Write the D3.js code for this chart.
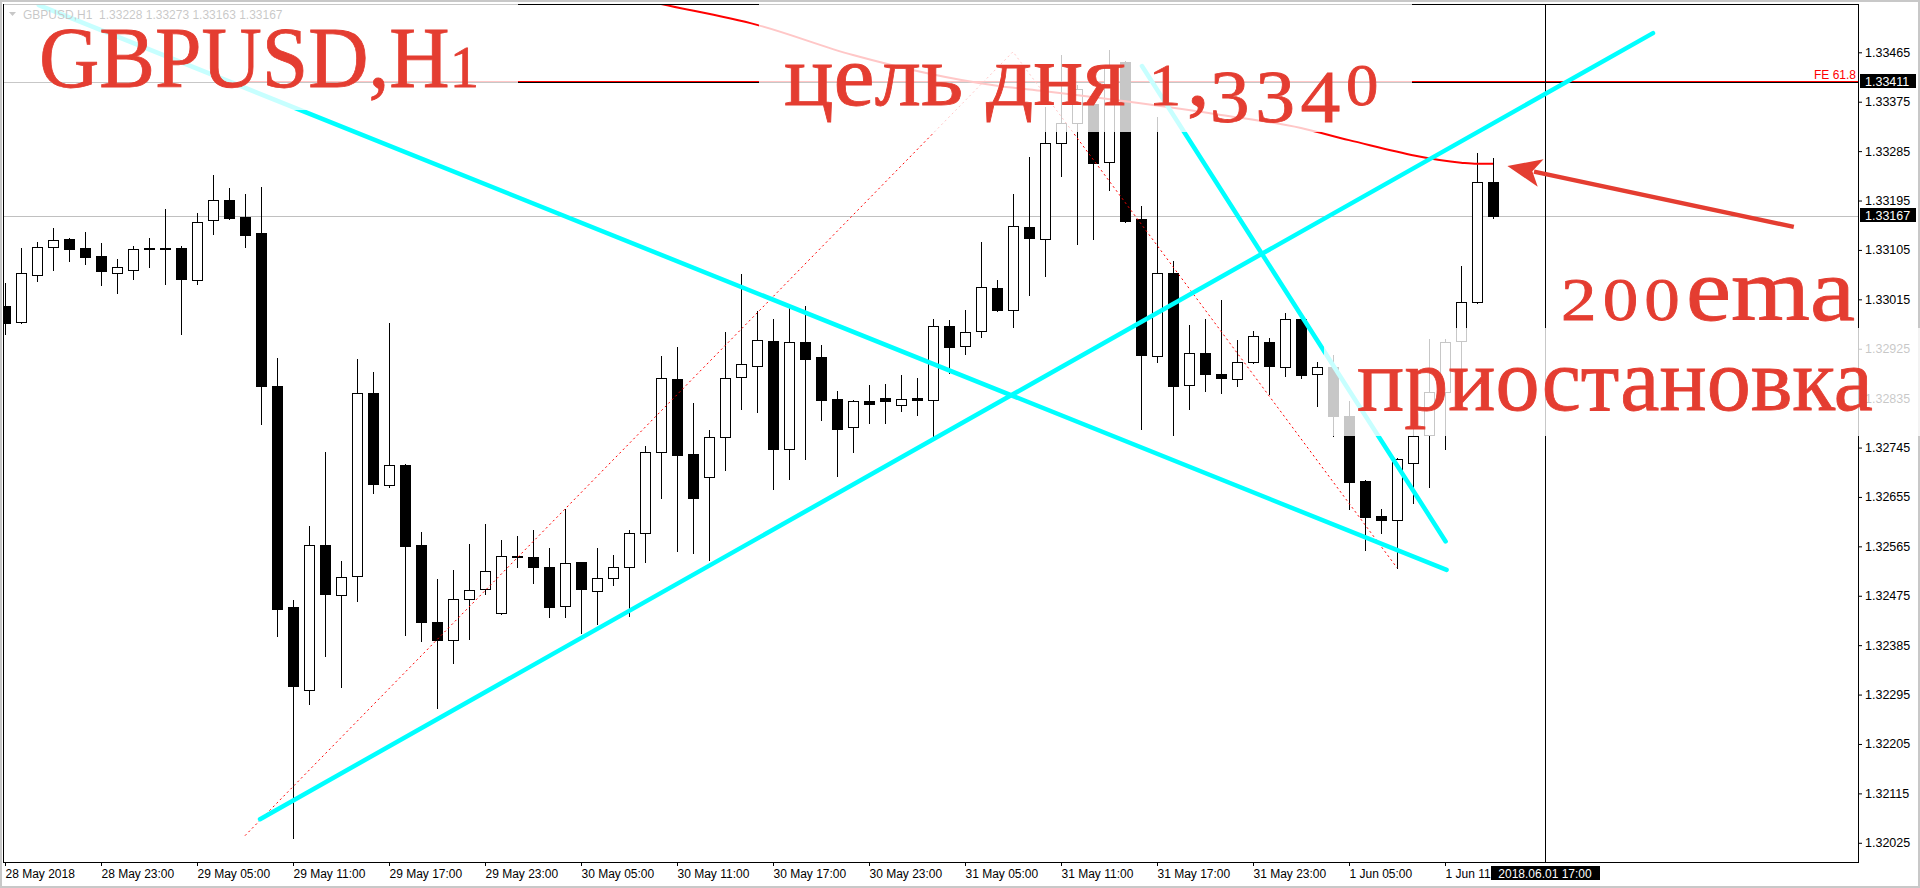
<!DOCTYPE html>
<html><head><meta charset="utf-8">
<script src="https://cdn.jsdelivr.net/npm/d3@7/dist/d3.min.js"></script>
<style>html,body{margin:0;padding:0;background:#fff;overflow:hidden}</style>
</head><body><svg id="c" width="1920" height="888"></svg>
<script>
// ---------------- DATA ----------------
const opens  = [1.33002,1.32973,1.33059,1.33111,1.33125,1.33109,1.33094,1.33063,1.33069,1.33106,
1.33108,1.33109,1.33051,1.33160,1.33196,1.33165,1.33136,1.32857,1.32455,1.32303,
1.32567,1.32477,1.32511,1.32844,1.32676,1.32713,1.32567,1.32427,1.32394,1.32469,
1.32487,1.32443,1.32547,1.32546,1.32527,1.32456,1.32536,1.32483,1.32507,1.32527,
1.32589,1.32737,1.32870,1.32733,1.32692,1.32764,1.32873,1.32894,1.32939,1.32743,
1.32937,1.32910,1.32834,1.32782,1.32829,1.32835,1.32822,1.32835,1.32831,1.32967,
1.32930,1.32957,1.33035,1.32995,1.33146,1.33124,1.33299,1.33336,1.33371,1.33265,
1.33448,1.33161,1.32912,1.33063,1.32859,1.32917,1.32879,1.32870,1.32901,1.32937,
1.32891,1.32979,1.32879,1.32891,1.32802,1.32684,1.32620,1.32613,1.32717,1.32767,
1.32846,1.32939,1.33010,1.33228];
const highs  = [1.33044,1.33109,1.33120,1.33145,1.33127,1.33138,1.33118,1.33089,1.33112,1.33127,
1.33180,1.33113,1.33172,1.33242,1.33218,1.33206,1.33220,1.32909,1.32467,1.32602,
1.32736,1.32538,1.32907,1.32883,1.32972,1.32715,1.32591,1.32506,1.32522,1.32569,
1.32605,1.32576,1.32583,1.32594,1.32562,1.32633,1.32536,1.32562,1.32550,1.32595,
1.32748,1.32912,1.32928,1.32826,1.32777,1.32956,1.33061,1.32994,1.32979,1.33001,
1.33003,1.32932,1.32848,1.32832,1.32859,1.32861,1.32877,1.32871,1.32979,1.32978,
1.32995,1.33120,1.33050,1.33206,1.33274,1.33366,1.33461,1.33405,1.33378,1.33470,
1.33449,1.33185,1.33347,1.33085,1.32968,1.32979,1.33014,1.32941,1.32957,1.32944,
1.32990,1.32980,1.32901,1.32914,1.32829,1.32685,1.32633,1.32726,1.32782,1.32942,
1.32943,1.33076,1.33281,1.33273];
const lows   = [1.32951,1.32971,1.33049,1.33069,1.33085,1.33079,1.33041,1.33027,1.33052,1.33074,
1.33043,1.32952,1.33043,1.33134,1.33162,1.33110,1.32788,1.32402,1.32033,1.32277,
1.32366,1.32308,1.32466,1.32663,1.32673,1.32403,1.32392,1.32270,1.32352,1.32396,
1.32479,1.32442,1.32528,1.32498,1.32437,1.32437,1.32408,1.32424,1.32495,1.32439,
1.32537,1.32654,1.32556,1.32552,1.32541,1.32705,1.32815,1.32809,1.32669,1.32688,
1.32724,1.32795,1.32693,1.32736,1.32790,1.32789,1.32812,1.32805,1.32761,1.32880,
1.32915,1.32947,1.32993,1.32965,1.33023,1.33058,1.33240,1.33115,1.33125,1.33214,
1.33156,1.32778,1.32900,1.32767,1.32816,1.32848,1.32844,1.32858,1.32899,1.32842,
1.32876,1.32872,1.32820,1.32766,1.32633,1.32558,1.32589,1.32526,1.32644,1.32674,
1.32743,1.32881,1.33009,1.33163];
const closes = [1.32971,1.33063,1.33111,1.33123,1.33107,1.33092,1.33066,1.33074,1.33106,1.33108,
1.33109,1.33052,1.33156,1.33196,1.33163,1.33133,1.32857,1.32450,1.32311,1.32567,
1.32479,1.32509,1.32844,1.32678,1.32713,1.32566,1.32427,1.32394,1.32469,1.32485,
1.32520,1.32547,1.32546,1.32527,1.32455,1.32535,1.32487,1.32507,1.32527,1.32589,
1.32737,1.32871,1.32732,1.32654,1.32764,1.32871,1.32897,1.32941,1.32743,1.32937,
1.32907,1.32832,1.32779,1.32830,1.32825,1.32829,1.32834,1.32831,1.32967,1.32929,
1.32956,1.33037,1.32995,1.33148,1.33126,1.33299,1.33336,1.33399,1.33263,1.33440,
1.33158,1.32913,1.33063,1.32858,1.32917,1.32879,1.32871,1.32901,1.32948,1.32894,
1.32979,1.32878,1.32891,1.32802,1.32683,1.32619,1.32613,1.32724,1.32766,1.32846,
1.32937,1.33010,1.33228,1.33167];

// 200 EMA (bar index, price)
const emaBars   = [36, 41, 47, 53, 62, 65, 76, 81, 84, 91, 92, 93];
const emaValues = [1.33585,1.33553,1.33515,1.33460,1.33404,1.33394,1.33351,1.33327,1.33305,1.33264,1.33262,1.33262];

// Fibonacci expansion anchors (bar, price)
const fiboBars   = [15, 63, 87];
const fiboPrices = [1.32038, 1.33466, 1.32526];
const feLevel = 1.33411;      // FE 61.8 / horizontal line
const lastPrice = 1.33167;
const vlineBar = 96.25;        // vertical line 2018.06.01 17:00

// cyan trend lines: [bar1, price1, bar2, price2]
const trendLines = [
  [2.11, 1.33551, 90.1, 1.32522],
  [15.94, 1.32068, 103.0, 1.33500],
  [71.06, 1.33440, 90.04, 1.32574]
];
// arrow (tail -> tip) in bar/price
const arrowFrom = [111.8, 1.33147];
const arrowTo   = [93.9, 1.33258];

const yTicks = [1.32025,1.32115,1.32205,1.32295,1.32385,1.32475,1.32565,1.32655,1.32745,1.32835,
                1.32925,1.33015,1.33105,1.33195,1.33285,1.33375,1.33465];
const xTickBars = [0,6,12,18,24,30,36,42,48,54,60,66,72,78,84,90];
const xTickLabels = ["28 May 2018","28 May 23:00","29 May 05:00","29 May 11:00","29 May 17:00","29 May 23:00",
  "30 May 05:00","30 May 11:00","30 May 17:00","30 May 23:00","31 May 05:00","31 May 11:00",
  "31 May 17:00","31 May 23:00","1 Jun 05:00","1 Jun 11:00"];

// ---------------- LAYOUT ----------------
const P = {l:3, t:4, r:1858, b:862};
const svg = d3.select('#c');
const x = d3.scaleLinear().domain([-0.125, 115.8125]).range([P.l, P.r]);
const y = d3.scaleLinear().domain([1.31990, 1.33553]).range([P.b, P.t]);
const RED = '#e43d31';
const AX_FONT = 'Liberation Sans, Arial, sans-serif';

svg.append('rect').attr('width',1920).attr('height',888).attr('fill','#fff');
svg.append('defs').append('clipPath').attr('id','clip')
  .append('rect').attr('x',P.l+1).attr('y',P.t+1).attr('width',P.r-P.l-1).attr('height',P.b-P.t-1);

const pg = svg.append('g').attr('clip-path','url(#clip)');

// last price grey line
pg.append('line').attr('x1',P.l).attr('x2',P.r)
  .attr('y1',Math.round(y(lastPrice))+0.5).attr('y2',Math.round(y(lastPrice))+0.5)
  .attr('stroke','#c0c0c0').attr('stroke-width',1);

// horizontal black line + FE 61.8 red level
const feY = Math.round(y(feLevel));
pg.append('line').attr('x1',P.l).attr('x2',P.r).attr('y1',feY+0.5).attr('y2',feY+0.5)
  .attr('stroke','#000').attr('stroke-width',1);
pg.append('line').attr('x1',x(fiboBars[0])).attr('x2',P.r).attr('y1',feY-0.5).attr('y2',feY-0.5)
  .attr('stroke','#ff0000').attr('stroke-width',1);

// vertical line
pg.append('line').attr('x1',Math.round(x(vlineBar))+0.5).attr('x2',Math.round(x(vlineBar))+0.5)
  .attr('y1',P.t).attr('y2',P.b).attr('stroke','#000').attr('stroke-width',1);

// candles
const candles = opens.map((o,i)=>({i,o,h:highs[i],l:lows[i],c:closes[i]}));
const cg = pg.append('g').attr('shape-rendering','crispEdges');
cg.selectAll('line.w').data(candles).join('line').attr('class','w')
  .attr('x1',d=>Math.round(x(d.i))+0.5).attr('x2',d=>Math.round(x(d.i))+0.5)
  .attr('y1',d=>Math.round(y(d.h))).attr('y2',d=>Math.round(y(d.l))+1)
  .attr('stroke','#000').attr('stroke-width',1);
cg.selectAll('rect.b').data(candles).join('rect').attr('class','b')
  .attr('x',d=>Math.round(x(d.i))-4.5)
  .attr('y',d=>Math.round(y(Math.max(d.o,d.c)))+0.5)
  .attr('width',10)
  .attr('height',d=>Math.max(1,Math.round(y(Math.min(d.o,d.c)))-Math.round(y(Math.max(d.o,d.c)))))
  .attr('fill',d=>d.c>=d.o?'#fff':'#000')
  .attr('stroke','#000').attr('stroke-width',1);

// EMA
pg.append('path').datum(emaBars.map((b,i)=>[b,emaValues[i]]))
  .attr('d',d3.line().x(d=>x(d[0])).y(d=>y(d[1])).curve(d3.curveMonotoneX))
  .attr('fill','none').attr('stroke','#ff0000').attr('stroke-width',2);

// Fibo dotted
pg.append('path').datum(fiboBars.map((b,i)=>[b,fiboPrices[i]]))
  .attr('d',d3.line().x(d=>x(d[0])).y(d=>y(d[1])))
  .attr('fill','none').attr('stroke','#ff0000').attr('stroke-width',1).attr('stroke-dasharray','2,3');

// cyan trend lines
pg.selectAll('line.tl').data(trendLines).join('line').attr('class','tl')
  .attr('x1',d=>x(d[0])).attr('y1',d=>y(d[1])).attr('x2',d=>x(d[2])).attr('y2',d=>y(d[3]))
  .attr('stroke','#00ffff').attr('stroke-width',4.5).attr('stroke-linecap','round');

// header
svg.append('path').attr('d','M9,12 L16,12 L12.5,16 Z').attr('fill','#000');
svg.append('text').attr('x',23).attr('y',19).attr('font-family',AX_FONT).attr('font-size',12)
  .attr('fill','#000').attr('xml:space','preserve')
  .text('GBPUSD,H1  1.33228 1.33273 1.33163 1.33167');

// ---------------- AXES ----------------
const yAx = svg.append('g').attr('transform',`translate(${P.r},0)`)
  .call(d3.axisRight(y).tickValues(yTicks).tickSize(4).tickSizeOuter(0).tickPadding(3).tickFormat(d3.format('.5f')));
yAx.select('.domain').remove();
yAx.selectAll('text').attr('font-family',AX_FONT).attr('font-size',12.5).attr('fill','#000');
yAx.selectAll('line').attr('stroke','#000');

const xAx = svg.append('g').attr('transform',`translate(0,${P.b})`)
  .call(d3.axisBottom(x).tickValues(xTickBars).tickSize(4).tickSizeOuter(0).tickPadding(3)
  .tickFormat((d,i)=>xTickLabels[i]));
xAx.select('.domain').remove();
xAx.selectAll('text').attr('font-family',AX_FONT).attr('font-size',12).attr('fill','#000')
  .attr('text-anchor','start').attr('x',0);
xAx.selectAll('line').attr('stroke','#000');

// frame
svg.append('rect').attr('x',P.l+0.5).attr('y',P.t+0.5).attr('width',P.r-P.l).attr('height',P.b-P.t)
  .attr('fill','none').attr('stroke','#000').attr('stroke-width',1);
svg.append('rect').attr('x',1).attr('y',1).attr('width',1918).attr('height',886)
  .attr('fill','none').attr('stroke','#c8c8c8').attr('stroke-width',2);

// ---------------- OVERLAY BOXES ----------------
const boxes = [[4,4,514,106],[759,4,653,128],[1324,328,596,108]];
svg.selectAll('rect.ov').data(boxes).join('rect').attr('class','ov')
  .attr('x',d=>d[0]).attr('y',d=>d[1]).attr('width',d=>d[2]).attr('height',d=>d[3])
  .attr('fill','#fff').attr('opacity',0.78);

// FE label
svg.append('text').attr('x',P.r-2).attr('y',feY-3).attr('text-anchor','end')
  .attr('font-family',AX_FONT).attr('font-size',12).attr('fill','#ff0000').text('FE 61.8');

// price labels
function priceTag(v, txt){
  const cy = Math.round(y(v));
  svg.append('rect').attr('x',P.r+2).attr('y',cy-8).attr('width',56).attr('height',14).attr('fill','#000');
  svg.append('text').attr('x',P.r+7).attr('y',cy+4).attr('font-family',AX_FONT).attr('font-size',12.5)
    .attr('fill','#fff').text(txt);
}
priceTag(feLevel,'1.33411');
priceTag(lastPrice,'1.33167');

// time tag
const vx = Math.round(x(vlineBar));
svg.append('rect').attr('x',vx-54).attr('y',866).attr('width',109).attr('height',14).attr('fill','#000');
svg.append('text').attr('x',vx).attr('y',877.5).attr('text-anchor','middle').attr('font-family',AX_FONT)
  .attr('font-size',12).attr('fill','#fff').text('2018.06.01 17:00');

// ---------------- ANNOTATIONS ----------------
// segment kinds: 0 normal, 1 old-style short digit, 2 old-style descending digit
const SERIF = 'Liberation Serif, Times New Roman, serif';
const notes = [
  {x:39, y:87, len:445, fs:86, segs:[['GBPUSD,H',0],['1',1]]},
  {x:784, y:105, len:600, fs:86, segs:[['цель дня ',0],['1',1],[',',0],['334',2],['0',1]]},
  {x:1561, y:320, len:294, fs:88, segs:[['200',1],['ema',0]]},
  {x:1357, y:410, len:516, fs:88, segs:[['приостановка',0]]}
];
notes.forEach(n=>{
  const g = svg.append('g');
  const t = g.append('text').attr('x',0).attr('y',0).attr('font-family',SERIF)
    .attr('font-size',n.fs).attr('fill',RED).attr('stroke',RED).attr('stroke-width',0.8)
    .attr('xml:space','preserve');
  let shift = 0;
  n.segs.forEach(([s,k])=>{
    const target = k===2 ? Math.round(n.fs*0.2) : 0;
    t.append('tspan').attr('dy',target-shift)
      .attr('font-size',k===1 ? n.fs*0.7 : (k===2 ? n.fs*0.86 : n.fs))
      .attr('letter-spacing',k===0 ? 0 : n.fs*0.06)
      .text(s);
    shift = target;
  });
  const w = t.node().getComputedTextLength();
  g.attr('transform',`translate(${n.x},${n.y}) scale(${n.len/w},1)`);
});

// arrow
const ax1 = x(arrowFrom[0]), ay1 = y(arrowFrom[1]), ax2 = x(arrowTo[0]), ay2 = y(arrowTo[1]);
const dx = ax1-ax2, dy = ay1-ay2, L = Math.hypot(dx,dy), ux = dx/L, uy = dy/L;
const hl = 34, hw = 14;
svg.append('line').attr('x1',ax1).attr('y1',ay1).attr('x2',ax2+ux*hl*0.8).attr('y2',ay2+uy*hl*0.8)
  .attr('stroke',RED).attr('stroke-width',4.5);
const bx = ax2+ux*hl, by = ay2+uy*hl;
svg.append('path').attr('d',`M${ax2},${ay2} L${bx-uy*hw},${by+ux*hw} L${ax2+ux*hl*0.75},${ay2+uy*hl*0.75} L${bx+uy*hw},${by-ux*hw} Z`)
  .attr('fill',RED);
</script></body></html>
